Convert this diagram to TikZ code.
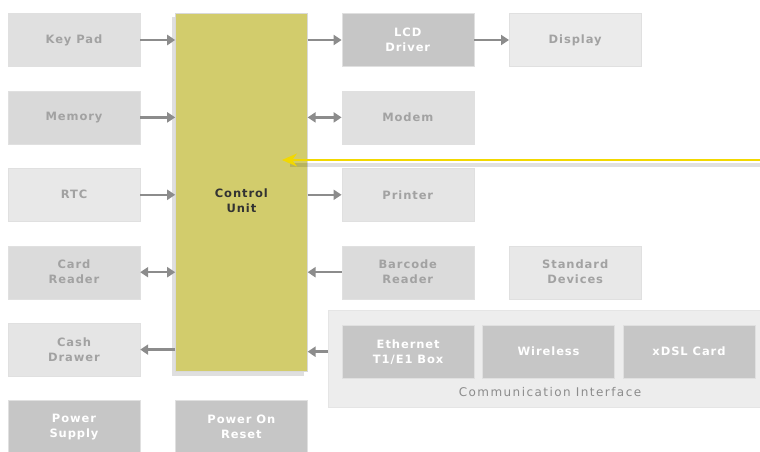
\documentclass[tikz,border=0pt]{standalone}
\usepackage{fontspec}
\setmainfont{DejaVu Sans}
\newfontfamily\lblfont[LetterSpace=8]{DejaVu Sans}
\newfontfamily\cmtfont[LetterSpace=12]{DejaVu Sans}
\usepackage{xcolor}
\usepackage{tikz}
\usetikzlibrary{arrows.meta,positioning,shadows}

\definecolor{cuyellow}{HTML}{D2CC6C}
\definecolor{boxtext}{HTML}{A2A2A2}
\definecolor{boxdark}{HTML}{C6C6C6}
\definecolor{arrgray}{HTML}{8C8C8C}
\definecolor{feedyellow}{HTML}{F2D800}

\begin{document}
\begin{tikzpicture}[
  x=1pt, y=-1pt,
  node distance=24pt and 35pt,
  box/.style={draw=black!12, minimum width=132pt, minimum height=53pt,
              inner sep=0pt, font=\lblfont\fontsize{11.5}{15}\selectfont\bfseries,
              align=center, text=boxtext},
  lite/.style={box, fill=#1},
  lite/.default={black!10},
  dark/.style={box, fill=boxdark, text=white},
  arr/.style={-{Triangle[length=8pt,width=10pt]}, line width=2.5pt, draw=arrgray},
  darr/.style={arr, {Triangle[length=8pt,width=10pt]}-{Triangle[length=8pt,width=10pt]}},
  ptr/.style={-{Stealth[length=15pt,width=13pt]}, line width=1.8pt, draw=feedyellow}
]
\useasboundingbox (0,0) rectangle (760,452);

% left column
\node[lite=black!12] (keypad) at (74,40) {Key Pad};
\node[lite=black!15, below=of keypad] (memory) {Memory};
\node[lite=black!9, below=of memory]  (rtc) {RTC};
\node[lite=black!14, below=of rtc]    (cardrd) {Card\\Reader};
\node[lite=black!10, below=of cardrd] (cash) {Cash\\Drawer};
\node[dark, below=of cash]            (psu) {Power\\Supply};

% control unit
\node[draw=black!15, fill=cuyellow, minimum width=132pt, minimum height=358pt,
      drop shadow={shadow xshift=-3pt, shadow yshift=-4pt, opacity=.25},
      right=35pt of keypad.north east, anchor=north west] (cu) {};
\node[font=\lblfont\fontsize{11.5}{15}\selectfont\bfseries, align=center,
      text=black!80] (cutext) at ([yshift=-8pt]cu.center) {Control\\Unit};
\node[dark, below=28pt of cu] (por) {Power On\\Reset};

% right column
\node[dark, right=34pt of cu.north east, anchor=north west] (lcd) {LCD\\Driver};
\node[lite=black!8, right=of lcd]        (display) {Display};
\node[lite=black!12, below=of lcd]       (modem) {Modem};
\node[lite=black!10, below=of modem]     (printer) {Printer};
\node[lite=black!14, below=of printer]   (barcode) {Barcode\\Reader};
\node[lite=black!9, right=of barcode]    (stddev) {Standard\\Devices};

% communication interface
\node[draw=black!10, fill=black!7, minimum width=432pt, minimum height=97pt,
      anchor=north west] (comm) at (328,310) {};
\node[dark, anchor=north west] (ether) at (342,325) {Ethernet\\T1/E1 Box};
\node[dark, right=8pt of ether]    (wless) {Wireless};
\node[dark, right=8pt of wless]    (xdsl) {xDSL Card};
\node[font=\cmtfont\fontsize{12}{14}\selectfont, text=black!45] (commlbl) at (550,392)
  {Communication Interface};

% connectors
\draw[arr] (keypad) -- (keypad -| cu.west);
\draw[arr] (memory) -- (memory -| cu.west);
\draw[arr] (rtc) -- (rtc -| cu.west);
\draw[darr] (cardrd) -- (cardrd -| cu.west);
\draw[arr] (cash -| cu.west) -- (cash);
\draw[arr] (lcd -| cu.east) -- (lcd);
\draw[arr] (lcd) -- (display);
\draw[darr] (modem -| cu.east) -- (modem);
\draw[arr] (printer -| cu.east) -- (printer);
\draw[arr] (barcode) -- (barcode -| cu.east);
\draw[arr] (ether -| comm.west) -- (ether -| cu.east);

% yellow pointer
\coordinate (feed) at (760,160);
\coordinate (tip) at (282,160);
\draw[line width=3.5pt, draw=black, opacity=.12] ([yshift=-5pt]feed) -- ([yshift=-5pt,xshift=8pt]tip);
\draw[ptr] (feed) -- (tip);
\end{tikzpicture}
\end{document}
